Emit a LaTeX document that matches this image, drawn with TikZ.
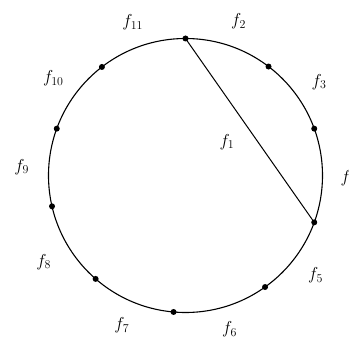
\documentclass[tikz,border=0pt]{standalone}
\begin{document}
\begin{tikzpicture}[x=1pt,y=1pt,
  dot/.style={circle,fill=black,inner sep=0pt,minimum size=6pt},
  lbl/.style={font=\fontsize{17}{20}\selectfont,inner sep=0pt},
  ring/.style={line width=1.1pt},
  chord/.style={line width=1pt}]
\useasboundingbox (0,0) rectangle (349,341);
\coordinate (C) at (185.5,165.5);
\draw[ring] (C) circle (137);
% points on the circle
\path (C) ++(90:137)    node[dot] (p1) {};
\path (C) ++(52.7:137)  node[dot] (p2) {};
\path (C) ++(20:137)    node[dot] (p3) {};
\path (C) ++(-20:137)   node[dot] (p4) {};
\path (C) ++(-54.5:137) node[dot] (p5) {};
\path (C) ++(-95:137)   node[dot] (p6) {};
\path (C) ++(-131:137)  node[dot] (p7) {};
\path (C) ++(-167:137)  node[dot] (p8) {};
\path (C) ++(160:137)   node[dot] (p9) {};
\path (C) ++(127.6:137) node[dot] (p10) {};
\draw[chord] (p1.center) -- (p4.center);
% labels
\node[lbl] (l1) at (227,199) {$f_1$};
\path (C) ++(71:163)    node[lbl] (l2) {$f_2$};
\path (C) ++(35:163)    node[lbl] (l3) {$f_3$};
\path (C) ++(-1:162.5)  node[lbl] (l4) {$f_4$};
\path (C) ++(-37.5:164) node[lbl] (l5) {$f_5$};
\path (C) ++(-74:160)   node[lbl] (l6) {$f_6$};
\path (C) ++(-113:163)  node[lbl] (l7) {$f_7$};
\path (C) ++(-148.7:166) node[lbl] (l8) {$f_8$};
\path (C) ++(177:164)   node[lbl] (l9) {$f_9$};
\path (C) ++(143.7:164) node[lbl] (l10) {$f_{10}$};
\path (C) ++(109:162)   node[lbl] (l11) {$f_{11}$};
\end{tikzpicture}
\end{document}
